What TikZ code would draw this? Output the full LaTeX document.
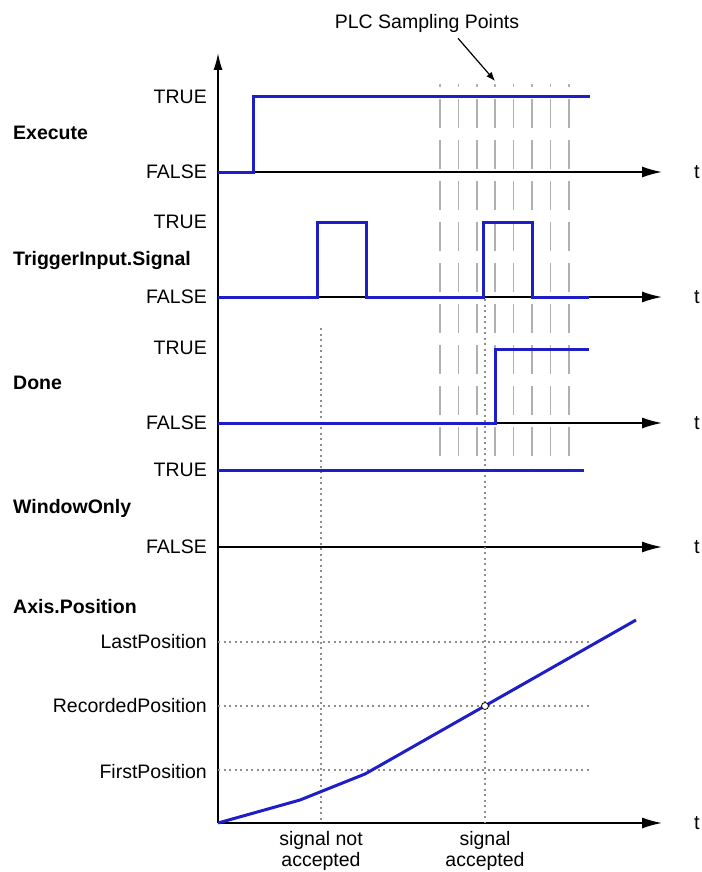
\documentclass[tikz,border=0pt]{standalone}
\usepackage{fontspec}
\setmainfont{Liberation Sans}
\usetikzlibrary{arrows.meta,calc,positioning}
\definecolor{sig}{HTML}{1E1EC8}
\definecolor{samp}{HTML}{B0B0B0}
\definecolor{grid}{HTML}{8E8E8E}

\begin{document}
\begin{tikzpicture}[x=1pt,y=-1pt,
  lbl/.style={anchor=east,inner sep=0pt,font=\fontsize{19.5}{21}\selectfont},
  signame/.style={anchor=west,inner sep=0pt,font=\fontsize{19.5}{21}\selectfont\bfseries},
  axis/.style={line width=1.5pt,-{Latex[length=20pt,width=11pt]}},
  wave/.style={sig,line width=3pt,line join=miter},
  sample/.style={samp,line width=1.5pt,dash pattern=on 29pt off 12pt,dash phase=26pt},
  guide/.style={grid,line width=1.2pt,dash pattern=on 2pt off 3.5pt}]
\useasboundingbox (0,0) rectangle (701,872);
\node[inner sep=0pt,font=\fontsize{19.5}{21}\selectfont] (plc) at (427,23) {PLC Sampling Points};
\coordinate (plctip) at (495,81);
\coordinate (orig) at (218,823);
\coordinate (ytop) at (218,53);
\draw[line width=1.5pt,-{Latex[length=17pt,width=9pt]}] (orig) -- (ytop);
\foreach \y/\n in {172/ex,297/tr,423/dn,547/wo,823/ax}{
  \draw[axis] (218,\y) -- (662,\y);
  \node[inner sep=0pt,font=\fontsize{20}{21}\selectfont] (t\n) at (697,\y) {t};
}
\foreach \x in {0,...,7}
  \draw[sample] (440+18.4*\x,84) -- (440+18.4*\x,468);
\draw[guide] (218,642) -- (590,642);
\draw[guide] (218,706) -- (590,706);
\draw[guide] (218,770) -- (590,770);
\draw[guide] (321,328) -- (321,823);
\draw[guide] (485,299) -- (485,823);
\draw[wave] (218,172) -- (253,172) -- (253,97) -- (590,97);
\draw[wave] (218,297) -- (317,297) -- (317,222) -- (366,222) -- (366,297) -- (483,297) -- (483,222) -- (532,222) -- (532,297) -- (589,297);
\draw[wave] (218,423) -- (495,423) -- (495,349) -- (589,349);
\draw[wave] (218,470) -- (584,470);
\draw[wave] (218,823) -- (300,800) -- (365,774) -- (636,620);
\node[circle,draw,fill=white,line width=0.8pt,inner sep=0pt,minimum size=7pt] (rec) at (485,706) {};
\draw[line width=1.2pt,-{Latex[length=9pt,width=7pt]}] ($(plc.south)+(31,6)$) -- (plctip);
\node[lbl] (ex1) at (207,97) {TRUE};
\node[lbl] (ex0) at (207,172) {FALSE};
\node[lbl] (tr1) at (207,222) {TRUE};
\node[lbl] (tr0) at (207,297) {FALSE};
\node[lbl] (dn1) at (207,348) {TRUE};
\node[lbl] (dn0) at (207,423) {FALSE};
\node[lbl] (wo1) at (207,470) {TRUE};
\node[lbl] (wo0) at (207,547) {FALSE};
\node[lbl] (last) at (207,642) {LastPosition};
\node[lbl] (recd) at (207,706) {RecordedPosition};
\node[lbl] (first) at (207,772) {FirstPosition};
\node[signame] (exe) at (13,133) {Execute};
\node[signame] (trig) at (13,260) {TriggerInput.Signal};
\node[signame] (done) at (13,383) {Done};
\node[signame] (wonly) at (13,508) {WindowOnly};
\node[signame] (axpos) at (13,607) {Axis.Position};
\node[inner sep=0pt,align=center,font=\fontsize{19.5}{21}\selectfont] (notacc) at (321,851) {signal not\\accepted};
\node[inner sep=0pt,align=center,font=\fontsize{19.5}{21}\selectfont] (acc) at (485,851) {signal\\accepted};
\end{tikzpicture}
\end{document}
